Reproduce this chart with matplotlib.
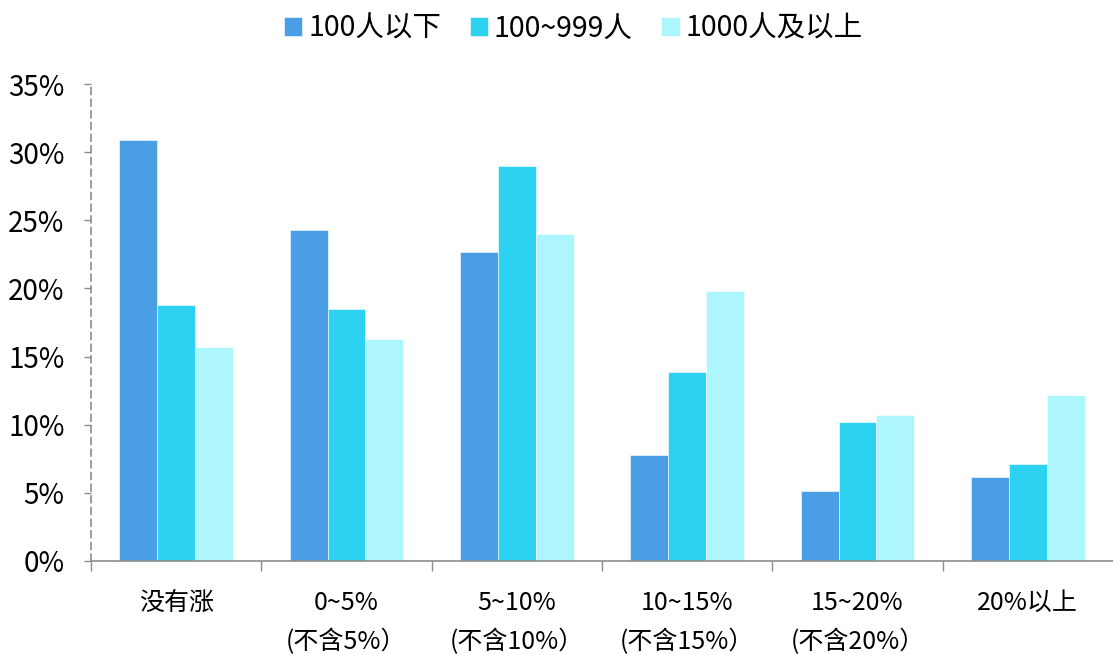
import matplotlib
matplotlib.use('Agg')
import matplotlib.pyplot as plt
import numpy as np

plt.rcParams['font.family'] = ['Noto Sans CJK SC', 'DejaVu Sans']

categories = ['没有涨', '0~5%\n(不含5%）', '5~10%\n(不含10%）', '10~15%\n(不含15%）', '15~20%\n(不含20%）', '20%以上']
seriesNames = ['100人以下', '100~999人', '1000人及以上']
small = [30.9, 24.3, 22.7, 7.8, 5.1, 6.2]
medium = [18.8, 18.5, 29.0, 13.9, 10.2, 7.1]
large = [15.7, 16.3, 24.0, 19.8, 10.7, 12.2]
yticks = [0, 5, 10, 15, 20, 25, 30, 35]

colors = ['#4A9EE5', '#2DD2F0', '#AEF6FD']

fig = plt.figure(figsize=(11.13, 6.55), dpi=100)
ax = fig.add_axes([91 / 1113, (655 - 561) / 655, 1022 / 1113, (561 - 84) / 655])

x = np.arange(len(categories))
w = 0.223
for i, vals in enumerate([small, medium, large]):
    ax.bar(x + (i - 1) * w, vals, width=w, color=colors[i], label=seriesNames[i],
           edgecolor='white', linewidth=0.4)

ax.set_xlim(-0.5, len(categories) - 0.5)
ax.set_ylim(0, 35)
ax.set_yticks(yticks)
ax.set_yticklabels(['%d%%' % v for v in yticks], fontsize=20)
ax.set_xticks(np.arange(-0.5, len(categories) - 0.5, 1))
ax.set_xticklabels([])
ax.set_xticks(x, minor=True)
ax.set_xticklabels(categories, minor=True, fontsize=18, linespacing=1.6)
ax.tick_params(axis='x', which='minor', length=0, pad=21)
ax.tick_params(axis='x', which='major', length=7, color='#8C8C8C', width=1)
ax.tick_params(axis='y', length=5, color='#8C8C8C', width=1, pad=14)

for s in ['top', 'right']:
    ax.spines[s].set_visible(False)
ax.spines['left'].set_linestyle((0, (4, 3)))
ax.spines['left'].set_color('#8C8C8C')
ax.spines['left'].set_linewidth(1.2)
ax.spines['bottom'].set_color('#8C8C8C')
ax.spines['bottom'].set_linewidth(1.2)

fig.legend(loc='upper center', bbox_to_anchor=(0.515, 1.018), ncol=3, frameon=False,
           fontsize=20.5, handlelength=0.65, handleheight=0.65, handletextpad=0.2, columnspacing=1.0)

fig.savefig('out.png', dpi=100)
